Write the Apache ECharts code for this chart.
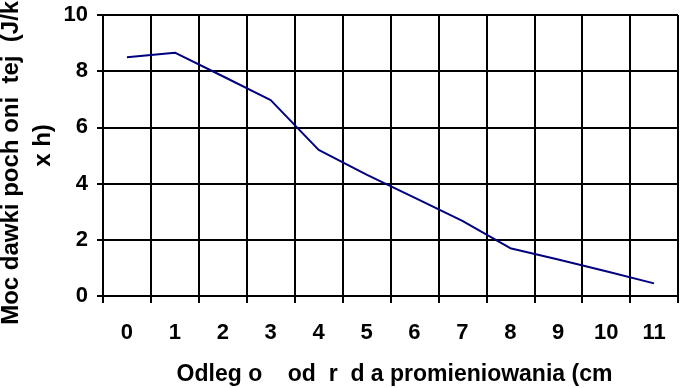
<!DOCTYPE html>
<html><head><meta charset="utf-8">
<script src="https://cdn.jsdelivr.net/npm/echarts@6/dist/echarts.min.js"></script>
<style>html,body{margin:0;padding:0;background:#fff}#c{width:680px;height:388px}</style>
</head><body><div id="c"></div>
<script>
const categories = ['0','1','2','3','4','5','6','7','8','9','10','11'];
const doseRate = [8.5, 8.66, 7.82, 6.97, 5.2, 4.32, 3.5, 2.67, 1.7, 1.3, 0.88, 0.45];
const yMin = 0, yMax = 10, yStep = 2;
const xTitle = 'Odleg o    od  r  d a promieniowania (cm';
const yTitle = 'Moc dawki poch oni  tej  (J/kg\n   x h)';

const font = 'Liberation Sans, Arial, Helvetica, sans-serif';
const black = '#000';
const chart = echarts.init(document.getElementById('c'), null, {renderer: 'canvas'});
chart.setOption({
  animation: false,
  backgroundColor: '#fff',
  grid: {left: 103, right: 2, top: 15, bottom: 92, containLabel: false, outerBoundsMode: 'none'},
  xAxis: {
    type: 'category',
    data: categories,
    boundaryGap: true,
    name: xTitle,
    nameLocation: 'middle',
    nameGap: 67,
    nameMoveOverlap: false,
    nameTextStyle: {fontFamily: font, fontSize: 23, fontWeight: 'bold', color: black, padding: [0, 0, 0, 8]},
    axisLine: {show: true, lineStyle: {color: black, width: 2}},
    axisTick: {show: true, interval: 0, length: 7, lineStyle: {color: black, width: 2}},
    axisLabel: {interval: 0, margin: 26, fontFamily: font, fontSize: 22, fontWeight: 'bold', color: black},
    splitLine: {show: true, interval: 0, lineStyle: {color: black, width: 2}}
  },
  yAxis: {
    type: 'value',
    min: yMin, max: yMax, interval: yStep,
    name: yTitle,
    nameLocation: 'middle',
    nameGap: 44,
    nameMoveOverlap: false,
    nameTextStyle: {fontFamily: font, fontSize: 24, fontWeight: 'bold', color: black, lineHeight: 32},
    axisLine: {show: true, lineStyle: {color: black, width: 2}},
    axisTick: {show: true, length: 6, lineStyle: {color: black, width: 2}},
    axisLabel: {margin: 15, fontFamily: font, fontSize: 22, fontWeight: 'bold', color: black},
    splitLine: {show: true, lineStyle: {color: black, width: 2}}
  },
  series: [{
    type: 'line',
    data: doseRate,
    symbol: 'none',
    silent: true,
    lineStyle: {color: '#000080', width: 2}
  }]
});
</script></body></html>
